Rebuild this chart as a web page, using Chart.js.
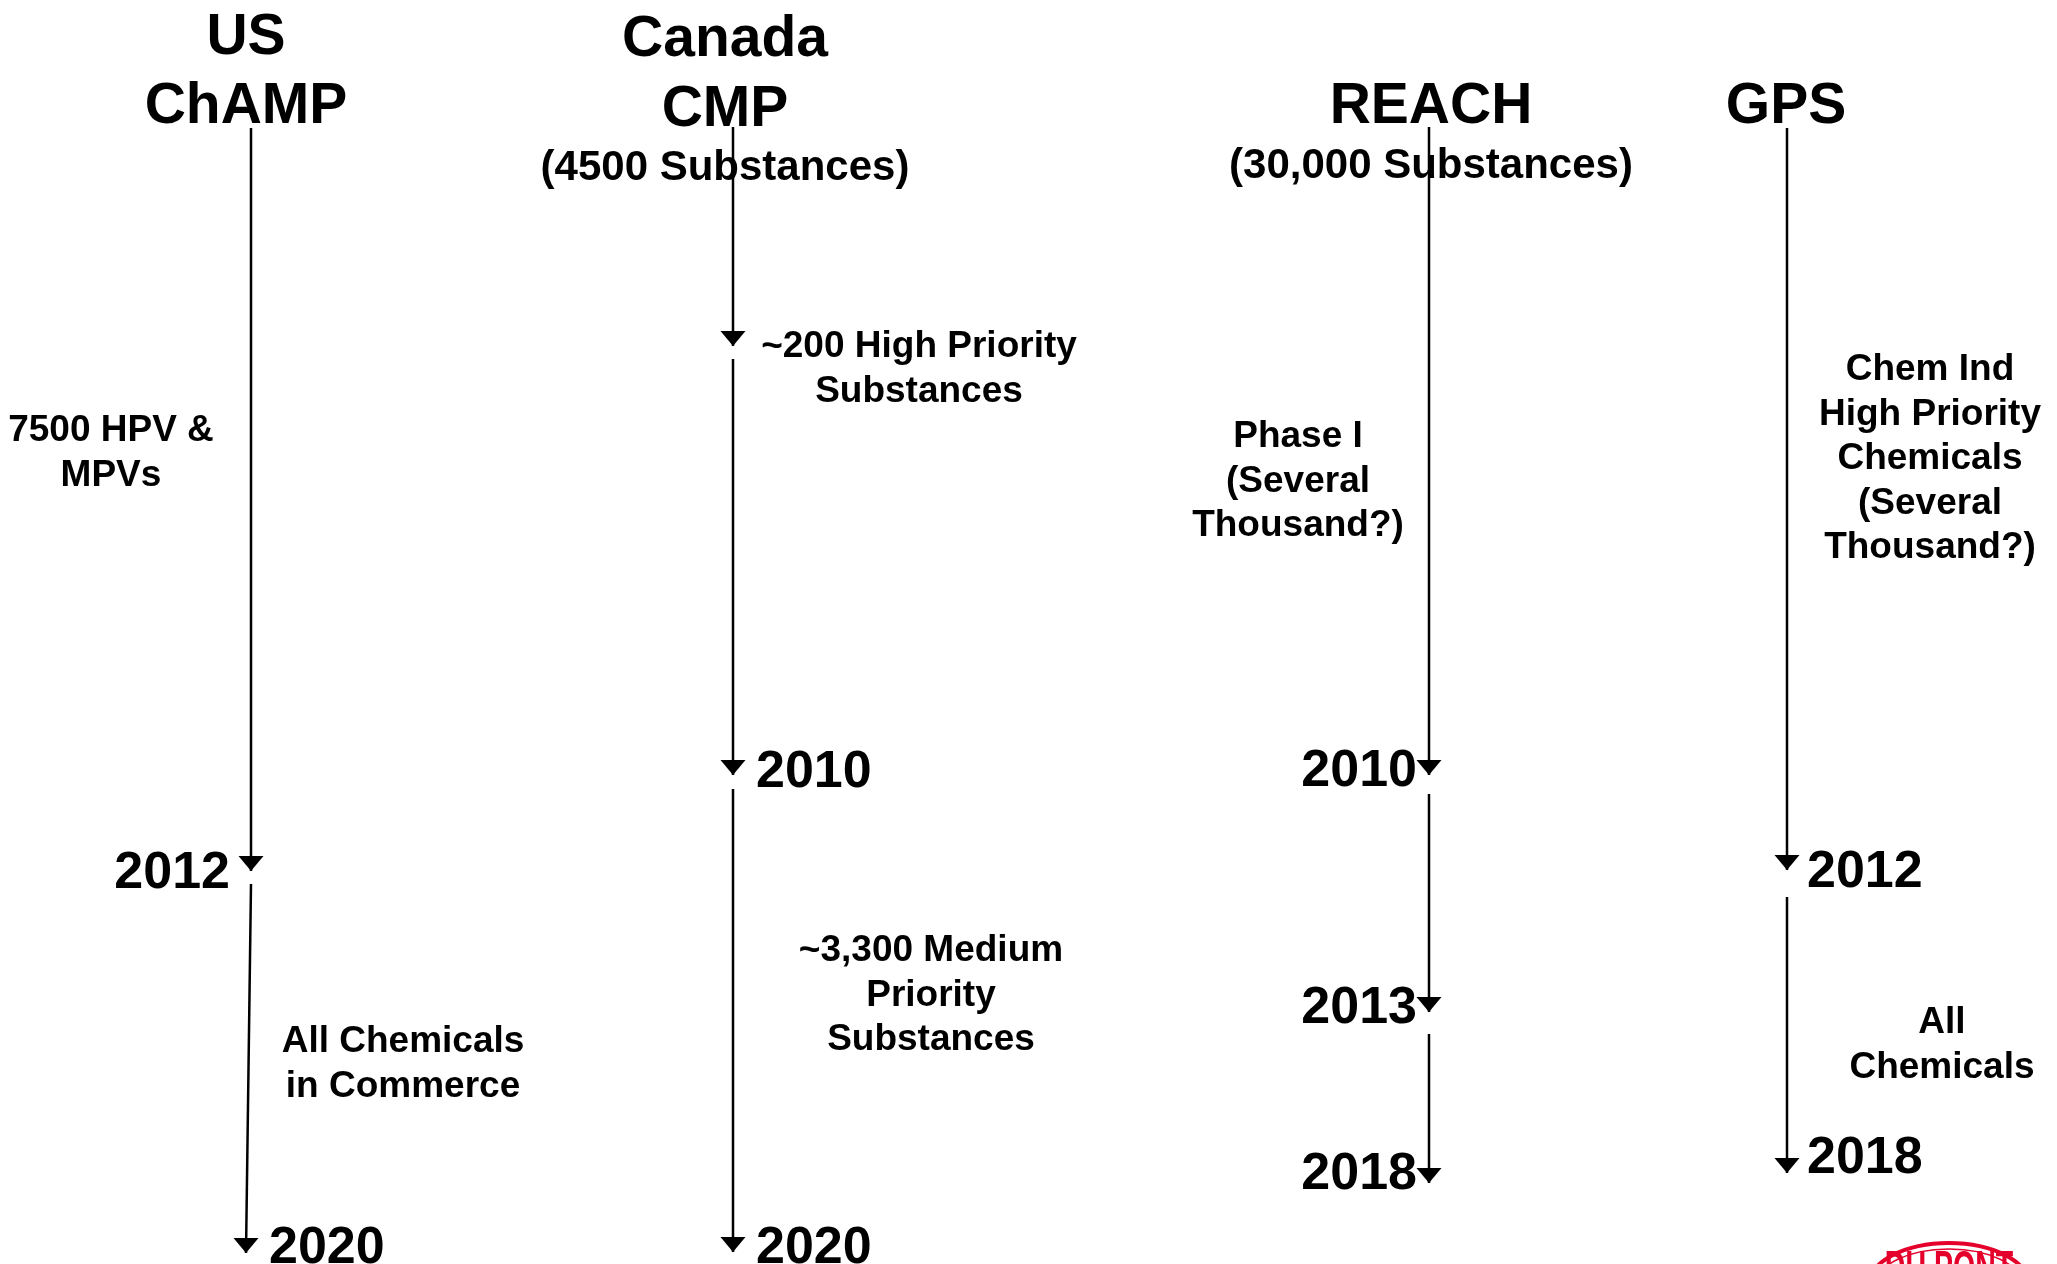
<!DOCTYPE html>
<html>
<head>
<meta charset="utf-8">
<title>Chemical management programmes timeline</title>
<script src="https://cdn.jsdelivr.net/npm/chart.js@4.4.1/dist/chart.umd.min.js"></script>
<style>
  html, body { margin: 0; padding: 0; background: #fff; overflow: hidden; }
  #wrap { position: relative; width: 2057px; height: 1264px; }
</style>
</head>
<body>
<div id="wrap"><canvas id="timeline"></canvas></div>
<script>
// Programmes and where each column sits across the slide
const programs = ['US ChAMP', 'Canada CMP', 'REACH', 'GPS'];
const programTitles = [['US', 'ChAMP'], ['Canada', 'CMP'], ['REACH'], ['GPS']];
const programScope = ['', '(4500 Substances)', '(30,000 Substances)', ''];
const columnX = [251, 733, 1429, 1787];

// Timeline segments per programme: [start, end] down the slide, optional x at the end
const usSegments = [[128, 871], [884, 1253, 246]];
const canadaSegments = [[127, 346], [359, 775], [789, 1252]];
const reachSegments = [[127, 775], [794, 1012], [1034, 1183]];
const gpsSegments = [[128, 870], [897, 1173]];
const allSegments = [usSegments, canadaSegments, reachSegments, gpsSegments];

// Milestone year at the end of each segment
const usYears = ['2012', '2020'];
const canadaYears = ['', '2010', '2020'];
const reachYears = ['2010', '2013', '2018'];
const gpsYears = ['2012', '2018'];
const allYears = [usYears, canadaYears, reachYears, gpsYears];

// Notes beside the timelines
const usNotes = [['7500 HPV &', 'MPVs'], ['All Chemicals', 'in Commerce']];
const canadaNotes = [['~200 High Priority', 'Substances'], ['~3,300 Medium', 'Priority', 'Substances']];
const reachNotes = [['Phase I', '(Several', 'Thousand?)']];
const gpsNotes = [['Chem Ind', 'High Priority', 'Chemicals', '(Several', 'Thousand?)'], ['All', 'Chemicals']];
const allNotes = [usNotes, canadaNotes, reachNotes, gpsNotes];

// ---- layout (positions and styles only) ----
const FONT = '"Liberation Sans", Arial, Helvetica, sans-serif';
const titleBase = [[54, 123], [56, 126], [123], [123]];
const titleCenter = [246, 725, 1431, 1786];
const scopeBase = [0, 180, 178, 0];
const noteAnchors = [
  [[111, 441], [403, 1052]],
  [[919, 357], [931, 961]],
  [[1298, 447]],
  [[1930, 380], [1942, 1033]]
];
// side of the line for year labels (-1 = left, 1 = right), and baseline offset from the arrow tip
const yearSide = [[-1, 1], [1, 1, 1], [-1, -1, -1], [1, 1]];
const yearDrop = [[17, 10], [0, 12, 11], [11, 11, 6], [17, 0]];
const yearGap = [[21, 23], [23, 23, 23], [12, 12, 12], [20, 20]];

const datasets = [];
allSegments.forEach((segs, p) => {
  segs.forEach((s, i) => {
    const xEnd = s[2] !== undefined ? s[2] : columnX[p];
    datasets.push({
      label: programs[p] + (allYears[p][i] ? ' ' + allYears[p][i] : ''),
      data: [{ x: columnX[p], y: s[0] }, { x: xEnd, y: s[1] }],
      showLine: true,
      borderColor: '#000',
      borderWidth: 2.5,
      pointRadius: 0,
      prog: p,
      seg: i
    });
  });
});

function linesAt(ctx, lines, x, y, lh) {
  lines.forEach((t, i) => ctx.fillText(t, x, y + i * lh));
}

const slidePlugin = {
  id: 'slide',
  beforeDatasetsDraw(chart) {
    const ctx = chart.ctx;
    const xs = chart.scales.x, ys = chart.scales.y;
    ctx.save();
    ctx.fillStyle = '#000';
    ctx.textBaseline = 'alphabetic';
    ctx.textAlign = 'center';
    // titles
    ctx.font = 'bold 57px ' + FONT;
    programTitles.forEach((lines, p) => {
      lines.forEach((t, i) => ctx.fillText(t, xs.getPixelForValue(titleCenter[p]), ys.getPixelForValue(titleBase[p][i])));
    });
    ctx.font = 'bold 42px ' + FONT;
    programScope.forEach((t, p) => {
      if (t) ctx.fillText(t, xs.getPixelForValue(titleCenter[p]), ys.getPixelForValue(scopeBase[p]));
    });
    // notes
    ctx.font = 'bold 37px ' + FONT;
    allNotes.forEach((notes, p) => {
      notes.forEach((lines, i) => {
        const a = noteAnchors[p][i];
        linesAt(ctx, lines, xs.getPixelForValue(a[0]), ys.getPixelForValue(a[1]), 44.5);
      });
    });
    // DuPont oval, cut by the slide's bottom edge
    const cx = xs.getPixelForValue(1949), cy = ys.getPixelForValue(1285);
    ctx.strokeStyle = '#e4002b';
    ctx.fillStyle = '#e4002b';
    ctx.lineWidth = 4;
    ctx.beginPath();
    ctx.ellipse(cx, cy, 80, 42, 0, 0, Math.PI * 2);
    ctx.stroke();
    ctx.lineWidth = 1.5;
    ctx.beginPath();
    ctx.ellipse(cx, cy, 73, 36, 0, 0, Math.PI * 2);
    ctx.stroke();
    ctx.save();
    ctx.translate(cx, ys.getPixelForValue(1283));
    ctx.scale(0.62, 1);
    ctx.font = 'bold 46px ' + FONT;
    ctx.fillText('DU PONT', 0, 0);
    ctx.restore();
    ctx.restore();
  },
  afterDatasetsDraw(chart) {
    const ctx = chart.ctx;
    ctx.save();
    ctx.fillStyle = '#000';
    chart.data.datasets.forEach((ds, di) => {
      const end = chart.getDatasetMeta(di).data[1];
      const tx = end.x, ty = end.y;
      ctx.beginPath();
      ctx.moveTo(tx - 12.5, ty - 15);
      ctx.lineTo(tx + 12.5, ty - 15);
      ctx.lineTo(tx, ty);
      ctx.closePath();
      ctx.fill();
      const yr = allYears[ds.prog][ds.seg];
      if (!yr) return;
      const side = yearSide[ds.prog][ds.seg];
      ctx.font = 'bold 52px ' + FONT;
      ctx.textAlign = side < 0 ? 'right' : 'left';
      ctx.textBaseline = 'alphabetic';
      ctx.fillText(yr, tx + side * yearGap[ds.prog][ds.seg], ty + yearDrop[ds.prog][ds.seg]);
    });
    ctx.restore();
  }
};

new Chart(document.getElementById('timeline'), {
  type: 'scatter',
  data: { datasets: datasets },
  options: {
    responsive: true,
    maintainAspectRatio: false,
    animation: false,
    layout: { padding: 0 },
    plugins: { legend: { display: false }, tooltip: { enabled: false } },
    scales: {
      x: { type: 'linear', min: 0, max: 2057, display: false },
      y: { type: 'linear', min: 0, max: 1264, reverse: true, display: false }
    }
  },
  plugins: [slidePlugin]
});
</script>
</body>
</html>
